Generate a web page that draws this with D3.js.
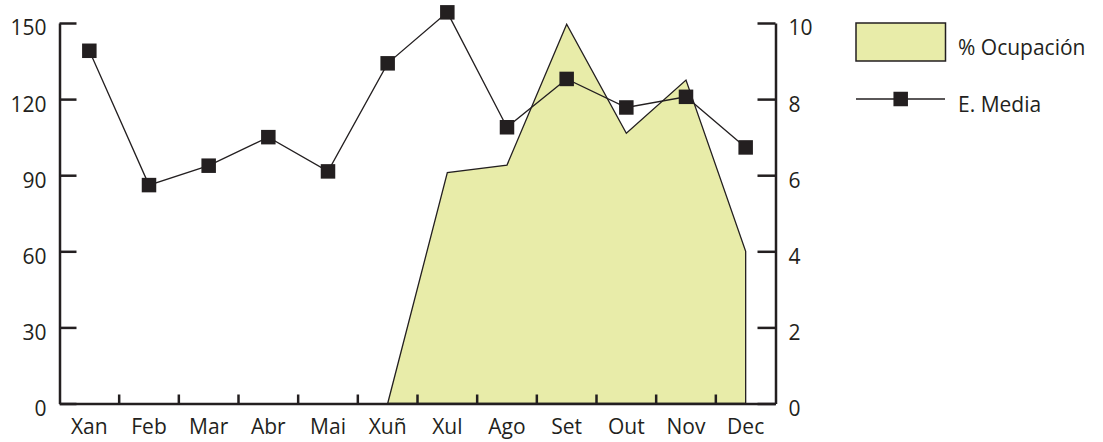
<!DOCTYPE html>
<html>
<head>
<meta charset="utf-8">
<script src="https://cdn.jsdelivr.net/npm/d3@7"></script>
<style>
  html, body { margin: 0; padding: 0; background: #ffffff; }
  svg { display: block; }
  text { font-family: "Open Sans", "Noto Sans", sans-serif; fill: #231f20; }
</style>
</head>
<body>
<svg id="chart" width="1103" height="442"></svg>
<script>
const months = ["Xan","Feb","Mar","Abr","Mai","Xuñ","Xul","Ago","Set","Out","Nov","Dec"];
const ocupacion = [null, null, null, null, null, 0, 91, 94, 149.5, 106.5, 127.5, 60];
const eMedia = [9.27, 5.74, 6.25, 7.0, 6.1, 8.94, 10.28, 7.26, 8.53, 7.78, 8.06, 6.73];
const leftTicks = [0, 30, 60, 90, 120, 150];
const rightTicks = [0, 2, 4, 6, 8, 10];
const seriesNames = ["% Ocupación", "E. Media"];

const dark = "#231f20";
const fillColor = "#e8eca9";
const fs = 21;

const svg = d3.select("#chart");
const x = d3.scaleBand().domain(months).range([59.5, 775.5]);
const yL = d3.scaleLinear().domain([0, 150]).range([403.5, 23]);
const yR = d3.scaleLinear().domain([0, 10]).range([403.5, 23]);
const cx = m => x(m) + x.bandwidth() / 2;

// Area
const areaData = months.map((m, i) => ({ m, v: ocupacion[i] }));
const area = d3.area()
  .defined(d => d.v !== null)
  .x(d => cx(d.m))
  .y0(yL(0))
  .y1(d => yL(d.v));
svg.append("path")
  .datum(areaData)
  .attr("d", area)
  .attr("fill", fillColor)
  .attr("stroke", dark)
  .attr("stroke-width", 1.3)
  .attr("stroke-linejoin", "miter");

// Left axis
const gL = svg.append("g")
  .attr("transform", "translate(59.5,0)")
  .call(d3.axisLeft(yL).tickValues(leftTicks).tickSize(-17).tickSizeOuter(0).tickPadding(13));
// Right axis
const gR = svg.append("g")
  .attr("transform", "translate(775.5,0)")
  .call(d3.axisRight(yR).tickValues(rightTicks).tickSize(-18).tickSizeOuter(0).tickPadding(13));
// Bottom axis (labels)
const gB = svg.append("g")
  .attr("transform", "translate(0,403.5)")
  .call(d3.axisBottom(x).tickSize(0).tickPadding(16));

[gL, gR, gB].forEach(g => {
  g.selectAll("path.domain").attr("stroke", dark).attr("stroke-width", 2.5);
  g.selectAll(".tick line").attr("stroke", dark).attr("stroke-width", 2.5);
  g.selectAll("text").attr("font-size", fs).style("font-family", "'Open Sans', sans-serif").attr("fill", dark);
});
gL.selectAll("text").attr("dy", "0.57em");
gR.selectAll("text").attr("dy", "0.57em");

// Bottom boundary ticks
svg.append("g").selectAll("line")
  .data(months.slice(1))
  .join("line")
  .attr("x1", d => x(d)).attr("x2", d => x(d))
  .attr("y1", 403.5).attr("y2", 394.5)
  .attr("stroke", dark).attr("stroke-width", 2.5);

// Line series
const lineData = months.map((m, i) => ({ m, v: eMedia[i] }));
svg.append("path")
  .datum(lineData)
  .attr("d", d3.line().x(d => cx(d.m)).y(d => yR(d.v)))
  .attr("fill", "none")
  .attr("stroke", dark)
  .attr("stroke-width", 1.3);
const ms = 14.5;
svg.append("g").selectAll("rect")
  .data(lineData)
  .join("rect")
  .attr("x", d => cx(d.m) - ms / 2)
  .attr("y", d => yR(d.v) - ms / 2)
  .attr("width", ms).attr("height", ms)
  .attr("fill", dark);

// Legend
const lg = svg.append("g");
lg.append("rect")
  .attr("x", 856).attr("y", 23).attr("width", 89.5).attr("height", 38)
  .attr("fill", fillColor).attr("stroke", dark).attr("stroke-width", 1.5);
lg.append("text").attr("x", 958).attr("y", 55).attr("font-size", fs).text(seriesNames[0]);
lg.append("line")
  .attr("x1", 856).attr("x2", 945).attr("y1", 99).attr("y2", 99)
  .attr("stroke", dark).attr("stroke-width", 1.3);
lg.append("rect")
  .attr("x", 900.7 - ms / 2).attr("y", 99 - ms / 2).attr("width", ms).attr("height", ms)
  .attr("fill", dark);
lg.append("text").attr("x", 958).attr("y", 111.5).attr("font-size", fs).text(seriesNames[1]);
</script>
</body>
</html>
